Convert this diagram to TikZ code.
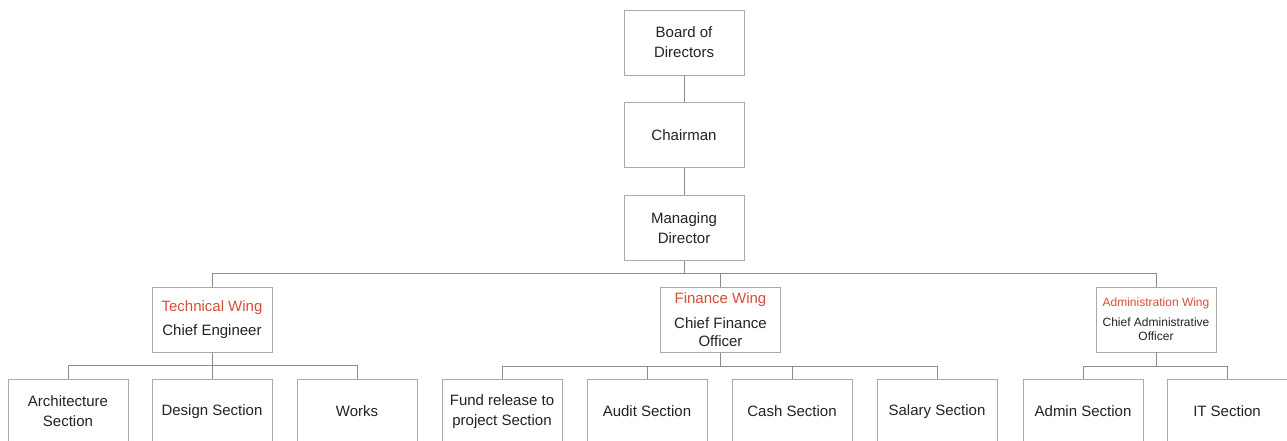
\documentclass[tikz,border=0pt]{standalone}
\usepackage{fontspec}
\setmainfont{Liberation Sans}
\definecolor{wingred}{RGB}{214,78,58}
\definecolor{boxline}{RGB}{170,170,170}
\definecolor{connline}{RGB}{140,140,140}
\definecolor{txt}{RGB}{35,35,35}
\begin{document}
\begin{tikzpicture}[x=1pt,y=-1pt,
  box/.style={draw=boxline,line width=0.8pt,fill=white,minimum width=120pt,minimum height=65pt,
    inner sep=2pt,align=center,text=txt,font=\fontsize{15}{20}\selectfont},
  wingbox/.style={box,font=\fontsize{15}{18}\selectfont},
  smallwing/.style={box,font=\fontsize{12}{14}\selectfont},
  conn/.style={draw=connline,line width=0.9pt}]
\useasboundingbox (0,0) rectangle (1287,441);
\clip (0,0) rectangle (1287,441);
% top chain
\node[box] (bod) at (684,42.5) {Board of\\Directors};
\node[box] (ch) at (684,135) {Chairman};
\node[box] (md) at (684,228) {Managing\\Director};
% wings
\node[wingbox] (tw) at (212,320) {{\color{wingred}Technical Wing}\\[6pt]Chief Engineer};
\node[wingbox] (fw) at (720.5,320) {{\color{wingred}Finance Wing}\\[7pt]Chief Finance\\Officer};
\node[smallwing] (aw) at (1156,319.5) {{\color{wingred}Administration Wing}\\[6pt]Chief Administrative\\Officer};
% sections
\node[box] (arch) at (68,411.5) {Architecture\\Section};
\node[box] (des) at (212,411.5) {Design Section};
\node[box] (works) at (357,411.5) {Works};
\node[box] (fund) at (502,411.5) {Fund release to\\project Section};
\node[box] (audit) at (647,411.5) {Audit Section};
\node[box] (cash) at (792,411.5) {Cash Section};
\node[box] (sal) at (937,411.5) {Salary Section};
\node[box] (adm) at (1083,411.5) {Admin Section};
\node[box] (it) at (1227,411.5) {IT Section};
% connectors
\draw[conn] (bod.south) -- (ch.north);
\draw[conn] (ch.south) -- (md.north);
\coordinate (bus) at (684,273);
\draw[conn] (md.south) -- (bus);
\draw[conn] (tw.north) |- (bus);
\draw[conn] (aw.north) |- (bus);
\draw[conn] (fw.north) -- (fw.north |- bus);
\coordinate (tbus) at (212,365);
\draw[conn] (tw.south) -- (tbus);
\draw[conn] (arch.north) |- (tbus);
\draw[conn] (works.north) |- (tbus);
\draw[conn] (des.north) -- (tbus);
\coordinate (fbus) at (720.5,366);
\draw[conn] (fw.south) -- (fbus);
\draw[conn] (fund.north) |- (fbus);
\draw[conn] (sal.north) |- (fbus);
\draw[conn] (audit.north) -- (audit.north |- fbus);
\draw[conn] (cash.north) -- (cash.north |- fbus);
\coordinate (abus) at (1156,366);
\draw[conn] (aw.south) -- (abus);
\draw[conn] (adm.north) |- (abus);
\draw[conn] (it.north) |- (abus);
\end{tikzpicture}
\end{document}
